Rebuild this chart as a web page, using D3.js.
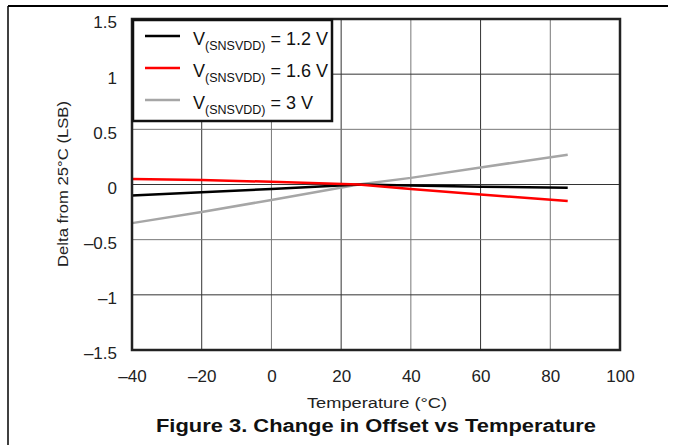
<!DOCTYPE html>
<html>
<head>
    <script src="https://d3js.org/d3.v7.min.js"></script>
    <style>
        body { margin: 0; background: #fff; }
        text { font-family: "Liberation Sans", Arial, sans-serif; }
    </style>
</head>
<body>
    <div id="chart"></div>
    <script>
        // data
        const temps = [-40, -20, 0, 25, 40, 60, 85];
        const v12 = [-0.10, -0.07, -0.04, 0.0, -0.01, -0.02, -0.03];
        const v16 = [0.05, 0.04, 0.025, 0.0, -0.04, -0.09, -0.15];
        const v30 = [-0.35, -0.25, -0.14, 0.0, 0.06, 0.155, 0.27];
        const seriesNames = ["1.2 V", "1.6 V", "3 V"];
        const seriesColors = ["#000000", "#ff0000", "#a6a6a6"];
        const xTicks = [-40, -20, 0, 20, 40, 60, 80, 100];
        const yTicks = [-1.5, -1, -0.5, 0, 0.5, 1, 1.5];

        const W = 673, H = 445;
        const svg = d3.select("#chart").append("svg")
            .attr("width", W).attr("height", H);

        const x = d3.scaleLinear().domain([-40, 100]).range([132, 620]);
        const y = d3.scaleLinear().domain([-1.5, 1.5]).range([350, 19]);

        const fmt = v => (v < 0 ? "\u2013" : "") + Math.abs(v);

        // outer frame (top and left only)
        svg.append("line").attr("x1", 8).attr("x2", 668).attr("y1", 6).attr("y2", 6)
            .attr("stroke", "#000").attr("stroke-width", 2);
        svg.append("line").attr("x1", 8).attr("x2", 8).attr("y1", 6).attr("y2", H)
            .attr("stroke", "#000").attr("stroke-width", 1.5);

        // grid
        svg.append("g").selectAll("line").data(xTicks.slice(1, -1)).join("line")
            .attr("x1", d => x(d)).attr("x2", d => x(d))
            .attr("y1", y(1.5)).attr("y2", y(-1.5))
            .attr("stroke", (d, i) => i % 2 ? "#777" : "#333").attr("stroke-width", 1);
        svg.append("g").selectAll("line").data(yTicks.slice(1, -1)).join("line")
            .attr("x1", x(-40)).attr("x2", x(100))
            .attr("y1", d => y(d)).attr("y2", d => y(d))
            .attr("stroke", (d, i) => i % 2 ? "#777" : "#333").attr("stroke-width", 1);

        // tick labels
        const xAxis = svg.append("g").attr("transform", "translate(0,350)")
            .call(d3.axisBottom(x).tickValues(xTicks).tickFormat(fmt).tickSize(0).tickPadding(20));
        xAxis.select(".domain").remove();
        xAxis.selectAll("text").attr("font-size", 17).attr("fill", "#222")
            .attr("font-family", "Liberation Sans, Arial, sans-serif");

        const yAxis = svg.append("g").attr("transform", "translate(132,0)")
            .call(d3.axisLeft(y).tickValues(yTicks).tickFormat(fmt).tickSize(0).tickPadding(15));
        yAxis.select(".domain").remove();
        yAxis.selectAll("text").attr("font-size", 17).attr("fill", "#222").attr("dy", "0.52em")
            .attr("font-family", "Liberation Sans, Arial, sans-serif");

        // series lines
        const allSeries = [v12, v16, v30];
        const line = d3.line().x((d, i) => x(temps[i])).y(d => y(d));
        // gray first, then black, red on top
        [2, 0, 1].forEach(k => {
            svg.append("path").datum(allSeries[k])
                .attr("fill", "none")
                .attr("stroke", seriesColors[k])
                .attr("stroke-width", 2.5)
                .attr("d", line);
        });

        // plot border
        svg.append("rect").attr("x", x(-40)).attr("y", y(1.5))
            .attr("width", x(100) - x(-40)).attr("height", y(-1.5) - y(1.5))
            .attr("fill", "none").attr("stroke", "#222").attr("stroke-width", 2.5);

        // legend
        const lg = svg.append("g");
        lg.append("rect").attr("x", 133).attr("y", 20).attr("width", 199).attr("height", 101)
            .attr("fill", "#fff").attr("stroke", "#111").attr("stroke-width", 2.5);
        seriesNames.forEach((name, i) => {
            const cy = 36 + i * 32;
            lg.append("line").attr("x1", 145).attr("x2", 180).attr("y1", cy).attr("y2", cy)
                .attr("stroke", seriesColors[i]).attr("stroke-width", 2.5);
            const t = lg.append("text").attr("x", 193).attr("y", cy + 9)
                .attr("font-family", "Lato, 'Open Sans', sans-serif")
                .attr("font-size", 18).attr("fill", "#111");
            t.append("tspan").text("V");
            t.append("tspan").attr("dy", 4.5).attr("font-size", 12.5).text("(SNSVDD)");
            t.append("tspan").attr("dy", -4.5).text(" = " + name);
        });

        // axis titles
        svg.append("text").attr("x", 377).attr("y", 408).attr("text-anchor", "middle")
            .attr("font-size", 15.5).attr("fill", "#222")
            .attr("textLength", 140).attr("lengthAdjust", "spacingAndGlyphs")
            .text("Temperature (\u00B0C)");
        svg.append("text").attr("transform", "translate(68,184) rotate(-90)")
            .attr("text-anchor", "middle").attr("font-size", 15.5).attr("fill", "#222")
            .attr("textLength", 166).attr("lengthAdjust", "spacingAndGlyphs")
            .text("Delta from 25\u00B0C (LSB)");

        // caption
        svg.append("text").attr("x", 376).attr("y", 432).attr("text-anchor", "middle")
            .attr("font-size", 17.5).attr("font-weight", "bold").attr("fill", "#111")
            .attr("textLength", 440).attr("lengthAdjust", "spacingAndGlyphs")
            .text("Figure 3. Change in Offset vs Temperature");
    </script>
</body>
</html>
